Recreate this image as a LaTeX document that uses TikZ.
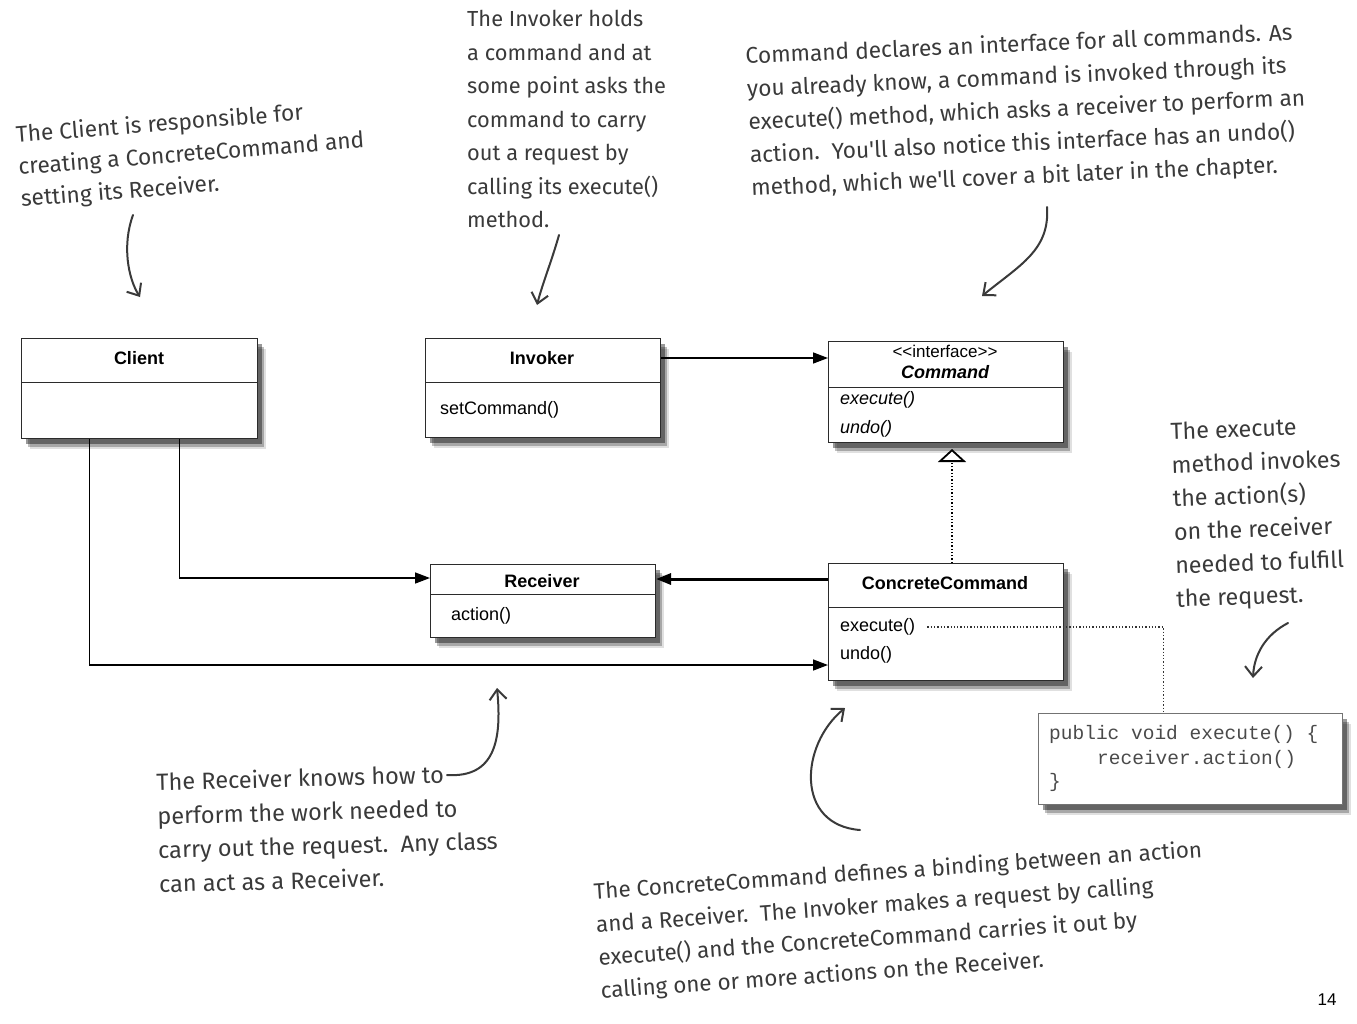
\documentclass[tikz,border=0pt]{standalone}
\usepackage{fontspec}
\setmainfont{Liberation Sans}
\setmonofont{Liberation Mono}
\newfontfamily\handfont{Fira Sans}
\usepackage{tikz}
\usetikzlibrary{arrows.meta,shadows,positioning,calc}
\definecolor{ink}{HTML}{3A3A3A}
\definecolor{frame}{HTML}{2B2B2B}
\definecolor{codeink}{HTML}{4A4A4A}
\tikzset{
  classbox/.style={draw=frame, line width=1pt, fill=white, anchor=north west, inner sep=0pt,
    general shadow={shadow xshift=8pt, shadow yshift=-10pt, fill=black, opacity=0.12},
    general shadow={shadow xshift=6pt, shadow yshift=-8pt, fill=black, opacity=0.25},
    general shadow={shadow xshift=4pt, shadow yshift=-5pt, fill=black, opacity=0.4}},
  divider/.style={draw=frame, line width=1pt},
  title/.style={font={\fontsize{18}{20}\selectfont\bfseries}, text=black, inner sep=0pt},
  meth/.style={font={\fontsize{18}{20}\selectfont}, text=black, anchor=west, inner sep=0pt},
  codeline/.style={font={\ttfamily\fontsize{19.5}{22}\selectfont}, text=codeink, anchor=west, inner sep=0pt},
  assoc/.style={draw=black, line width=1.5pt, -{Triangle[length=15pt,width=11pt]}},
  real/.style={draw=black, dotted, line width=1.3pt},
  dep/.style={draw=black!80, dotted, line width=1.3pt},
  note/.style 2 args={font={\handfont\fontsize{#1}{#2}\selectfont}, text=ink, align=left, anchor=north west, inner sep=0pt},
  hand/.style={draw=ink, line width=2pt, line cap=round, -{Straight Barb[length=10pt,width=17pt,line width=2pt]}},
}

\begin{document}
\begin{tikzpicture}[x=1pt,y=-1pt]
\fill[white] (0,0) rectangle (1357,1023);
\useasboundingbox (0,0) rectangle (1357,1023);

% classes
\node[classbox, minimum width=236pt, minimum height=100pt] (client) at (21,338) {};
\draw[divider] (21,382) -- (257,382);
\node[title] (client name) at (139,358) {Client};

\node[classbox, minimum width=235pt, minimum height=99pt] (invoker) at (425,338) {};
\draw[divider] (425,382) -- (660,382);
\node[title] (invoker name) at (542,358) {Invoker};
\node[meth] (invoker set) at (440,410) {setCommand()};

\node[classbox, minimum width=235pt, minimum height=101pt] (command) at (828,341) {};
\draw[divider] (828,387) -- (1063,387);
\node[meth, anchor=center, font={\fontsize{17}{19}\selectfont}] (command stereo) at (945,351) {<\kern0pt<interface>\kern0pt>};
\node[title, font={\fontsize{18}{20}\selectfont\bfseries\itshape}] (command name) at (945,372) {Command};
\node[meth, font={\fontsize{18}{20}\selectfont\itshape}] (command exec) at (840,400) {execute()};
\node[meth, font={\fontsize{18}{20}\selectfont\itshape}] (command undo) at (840,429) {undo()};

\node[classbox, minimum width=225pt, minimum height=73pt] (receiver) at (430,564) {};
\draw[divider] (430,594) -- (655,594);
\node[title] (receiver name) at (542,581) {Receiver};
\node[meth] (receiver action) at (451,616) {action()};

\node[classbox, minimum width=235pt, minimum height=117pt] (cc) at (828,563) {};
\draw[divider] (828,607) -- (1063,607);
\node[title] (cc name) at (945,583) {ConcreteCommand};
\node[meth] (cc exec) at (840,627) {execute()};
\node[meth] (cc undo) at (840,655) {undo()};

\node[classbox, draw=black!55, line width=1.2pt, minimum width=304pt, minimum height=91pt] (code) at (1038,713) {};
\node[codeline] (code a) at (1049,734) {public void execute() \{};
\node[codeline] (code b) at (1097,759) {receiver.action()};
\node[codeline] (code c) at (1049,782) {\}};

% relations
\coordinate (inv out) at ([yshift=-20pt]invoker.north east);
\draw[assoc] (inv out) -- (inv out -| command.west);
\draw[assoc] ([xshift=40pt]client.south) |- ([yshift=23pt]receiver.west);
\draw[assoc] ([xshift=-50pt]client.south) |- ([yshift=-43pt]cc.west);
\coordinate (cc out) at ([yshift=-16pt]cc.north west);
\draw[assoc, line width=3pt] (cc out) -- (cc out -| receiver.east);
\draw[real, shorten >=6pt, -{Triangle[open, fill=white, length=13pt, width=28pt, line width=1.8pt]}]
  ([xshift=6pt]cc.north) -- ([xshift=6pt]command.south);
\draw[dep] ([xshift=12pt]cc exec.east) -| ([xshift=-27pt]code.north);

% notes
\node[note={22.7}{32}, rotate=4.5] (client note) at (15,125) {The Client is responsible for\\creating a ConcreteCommand and\\setting its Receiver.};
\node[note={21.8}{33.5}] (invoker note) at (467,10) {The Invoker holds\\a command and at\\some point asks the\\command to carry\\out a request by\\calling its execute()\\method.};
\node[note={22.7}{33}, rotate=2.5] (command note) at (745,46) {Command declares an interface for all commands. As\\you already know, a command is invoked through its\\execute() method, which asks a receiver to perform an\\action.\ \ You'll also notice this interface has an undo()\\method, which we'll cover a bit later in the chapter.};
\node[note={23.3}{33.5}, rotate=2] (exec note) at (1170,422) {The execute\\method invokes\\the action(s)\\on the receiver\\needed to fulfill\\the request.};
\node[note={23.5}{34}, rotate=1.5] (receiver note) at (156,772) {The Receiver knows how to\\perform the work needed to\\carry out the request.\ \ Any class\\can act as a Receiver.};
\node[note={22.4}{33}, rotate=4] (cc note) at (593,882) {The ConcreteCommand defines a binding between an action\\and a Receiver.\ \ The Invoker makes a request by calling\\execute() and the ConcreteCommand carries it out by\\calling one or more actions on the Receiver.};

% hand drawn pointers
\coordinate (client tail) at (133,215);
\coordinate (client tip) at (140,297);
\draw[hand] (client tail) .. controls (122,245) and (128,278) .. (client tip);
\coordinate (invoker tail) at (559,235);
\coordinate (invoker tip) at (537,305);
\draw[hand] (invoker tail) .. controls (552,260) and (542,285) .. (invoker tip);
\coordinate (command tail) at (1047,207);
\coordinate (command tip) at (982,296);
\draw[hand] (command tail) .. controls (1050,250) and (1020,265) .. (command tip);
\coordinate (exec tail) at (1288,623);
\coordinate (exec tip) at (1253,678);
\draw[hand] (exec tail) .. controls (1265,635) and (1254,655) .. (exec tip);
\coordinate (receiver tail) at (447,775);
\coordinate (receiver tip) at (497,688);
\draw[hand] (receiver tail) .. controls (495,778) and (502,740) .. (receiver tip);
\coordinate (cc tail) at (860,830);
\coordinate (cc tip) at (845,708);
\draw[hand] (cc tail) .. controls (795,825) and (800,745) .. (cc tip);

\node[font={\fontsize{17}{20}\selectfont}] (page no) at (1327,1000) {14};
\end{tikzpicture}
\end{document}
